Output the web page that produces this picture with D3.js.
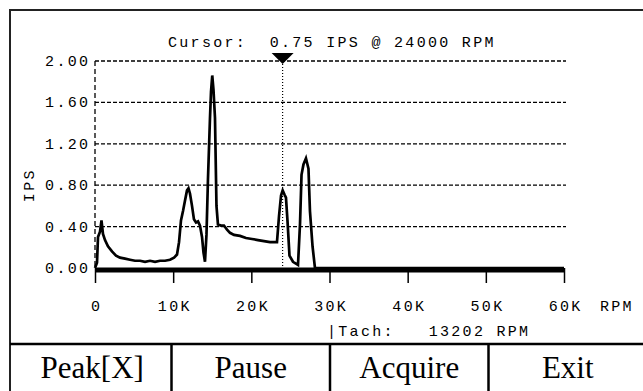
<!DOCTYPE html>
<html>
<head>
<meta charset="utf-8">
<script src="https://cdn.jsdelivr.net/npm/d3@7"></script>
<style>
  body { margin: 0; background: #fff; }
  svg { display: block; }
  .mono { font-family: "Liberation Mono", "DejaVu Sans Mono", monospace; font-size: 15px; letter-spacing: 2.3px; fill: #000; }
  .btn { font-family: "Liberation Serif", serif; font-size: 31px; fill: #000; }
</style>
</head>
<body>
<div id="chart"></div>
<script>
// spectrum
var rpm = [0, 256, 384, 640, 830, 1020, 1280, 1660, 2170, 2690, 3200, 3840, 4480, 5120, 5760, 6400, 7040, 7680, 8320, 8960, 9600,
  10110, 10490, 10750, 11000, 11260, 11510, 11770, 11960, 12150, 12410, 12660, 12920, 13180, 13430, 13690, 13880, 14070,
  14260, 14450, 14710, 14840, 15000, 15160, 15350, 15540, 15730, 16120, 16500, 16890, 17270, 17780, 18550, 19320, 20080,
  20850, 21620, 22390, 23280, 23540, 23800, 24010, 24240, 24430, 24630, 24880, 25330, 25970, 26230, 26420, 26670, 26990,
  27310, 27500, 27830, 28140, 60000];
var ips = [0, 0.05, 0.30, 0.35, 0.46, 0.33, 0.27, 0.21, 0.16, 0.12, 0.10, 0.09, 0.08, 0.07, 0.07, 0.06, 0.07, 0.06, 0.07, 0.07, 0.08,
  0.10, 0.13, 0.25, 0.46, 0.55, 0.65, 0.75, 0.77, 0.72, 0.60, 0.47, 0.44, 0.45, 0.41, 0.30, 0.15, 0.06,
  0.32, 0.85, 1.45, 1.70, 1.86, 1.72, 1.45, 0.60, 0.42, 0.41, 0.41, 0.37, 0.34, 0.32, 0.31, 0.29, 0.28,
  0.27, 0.26, 0.25, 0.25, 0.50, 0.70, 0.75, 0.71, 0.68, 0.45, 0.12, 0.06, 0.03, 0.43, 0.90, 1.00, 1.06,
  0.96, 0.55, 0.21, 0, 0];

var yTicks = [0, 0.4, 0.8, 1.2, 1.6, 2.0];
var xTicks = [0, 10000, 20000, 30000, 40000, 50000, 60000];
var xTickLabels = ["0", "10K", "20K", "30K", "40K", "50K", "60K"];
var buttons = ["Peak[X]", "Pause", "Acquire", "Exit"];
var cursorRpm = 24000;
var cursorIps = 0.75;
var tachRpm = 13202;

var svgWidth = 643;
var svgHeight = 391;
var ls = 2.3; // letter spacing of mono text

var svg = d3.select("#chart")
  .append("svg")
  .attr("width", svgWidth)
  .attr("height", svgHeight);

var x = d3.scaleLinear().domain([0, 60000]).range([95, 564]);
var y = d3.scaleLinear().domain([0, 2]).range([268, 61]);

// outer frame
svg.append("path")
  .attr("d", "M10," + svgHeight + "V10H" + (svgWidth + 5))
  .attr("fill", "none")
  .attr("stroke", "#222")
  .attr("stroke-width", 2);

// grid lines
svg.append("g").selectAll("line")
  .data(yTicks.filter(function(d) { return d > 0; }))
  .enter().append("line")
  .attr("x1", x(0)).attr("x2", x(60000) + 2)
  .attr("y1", function(d) { return y(d); })
  .attr("y2", function(d) { return y(d); })
  .attr("stroke", "#000")
  .attr("stroke-width", 1.3)
  .attr("stroke-dasharray", "4,2");

// dashed y axis
svg.append("line")
  .attr("x1", x(0)).attr("x2", x(0))
  .attr("y1", y(2)).attr("y2", y(0))
  .attr("stroke", "#000")
  .attr("stroke-width", 1.3)
  .attr("stroke-dasharray", "5,3");

// y tick labels
svg.append("g").selectAll("text")
  .data(yTicks)
  .enter().append("text")
  .attr("class", "mono")
  .attr("x", x(0) - 7 + ls)
  .attr("y", function(d) { return y(d) + 5; })
  .attr("text-anchor", "end")
  .text(function(d) { return d.toFixed(2); });

svg.append("text")
  .attr("class", "mono")
  .attr("transform", "translate(34," + y(0.8) + ") rotate(-90)")
  .attr("text-anchor", "middle")
  .text("IPS");

// x axis with ticks
var bottomAxis = d3.axisBottom(x)
  .tickValues(xTicks)
  .tickSize(15)
  .tickPadding(17)
  .tickFormat(function(d, i) { return xTickLabels[i]; });

var xAxisG = svg.append("g")
  .attr("transform", "translate(0, 268)")
  .call(bottomAxis);
xAxisG.select(".domain").remove();
xAxisG.selectAll(".tick line").attr("stroke", "#000").attr("stroke-width", 1.5);
xAxisG.selectAll(".tick text")
  .attr("class", "mono")
  .attr("font-family", null).attr("font-size", null)
  .attr("dx", ls / 2);

svg.append("text")
  .attr("class", "mono")
  .attr("x", 600)
  .attr("y", 311)
  .text("RPM");

// cursor
svg.append("line")
  .attr("x1", x(cursorRpm)).attr("x2", x(cursorRpm))
  .attr("y1", y(2)).attr("y2", y(0))
  .attr("stroke", "#000")
  .attr("stroke-width", 1.2)
  .attr("stroke-dasharray", "1,2");

// spectrum trace
var line = d3.line()
  .x(function(d, i) { return x(rpm[i]); })
  .y(function(d) { return y(d); });

svg.append("path")
  .attr("d", line(ips))
  .attr("fill", "none")
  .attr("stroke", "#000")
  .attr("stroke-width", 2.7)
  .attr("stroke-linejoin", "miter");

// thick baseline
svg.append("line")
  .attr("x1", x(0)).attr("x2", x(60000))
  .attr("y1", 270).attr("y2", 270)
  .attr("stroke", "#000")
  .attr("stroke-width", 5);

svg.append("path")
  .attr("d", "M" + (x(cursorRpm) - 11) + ",53H" + (x(cursorRpm) + 11) + "L" + x(cursorRpm) + ",64Z")
  .attr("fill", "#000");

svg.append("text")
  .attr("class", "mono")
  .attr("x", 168)
  .attr("y", 47)
  .style("white-space", "pre")
  .text("Cursor:  " + cursorIps.toFixed(2) + " IPS @ " + cursorRpm + " RPM");

svg.append("text")
  .attr("class", "mono")
  .attr("x", 327)
  .attr("y", 336)
  .style("white-space", "pre")
  .text("|Tach:   " + tachRpm + " RPM");

// soft buttons
var bx = d3.scaleBand().domain(buttons).range([13, 647]);

svg.append("line")
  .attr("x1", 10).attr("x2", svgWidth)
  .attr("y1", 344).attr("y2", 344)
  .attr("stroke", "#000")
  .attr("stroke-width", 2.5);

svg.append("g").selectAll("line")
  .data(buttons.slice(1))
  .enter().append("line")
  .attr("x1", function(d) { return bx(d); })
  .attr("x2", function(d) { return bx(d); })
  .attr("y1", 344).attr("y2", svgHeight)
  .attr("stroke", "#000")
  .attr("stroke-width", 2.5);

svg.append("g").selectAll("text")
  .data(buttons)
  .enter().append("text")
  .attr("class", "btn")
  .attr("x", function(d) { return bx(d) + bx.bandwidth() / 2; })
  .attr("y", 378)
  .attr("text-anchor", "middle")
  .text(function(d) { return d; });
</script>
</body>
</html>
